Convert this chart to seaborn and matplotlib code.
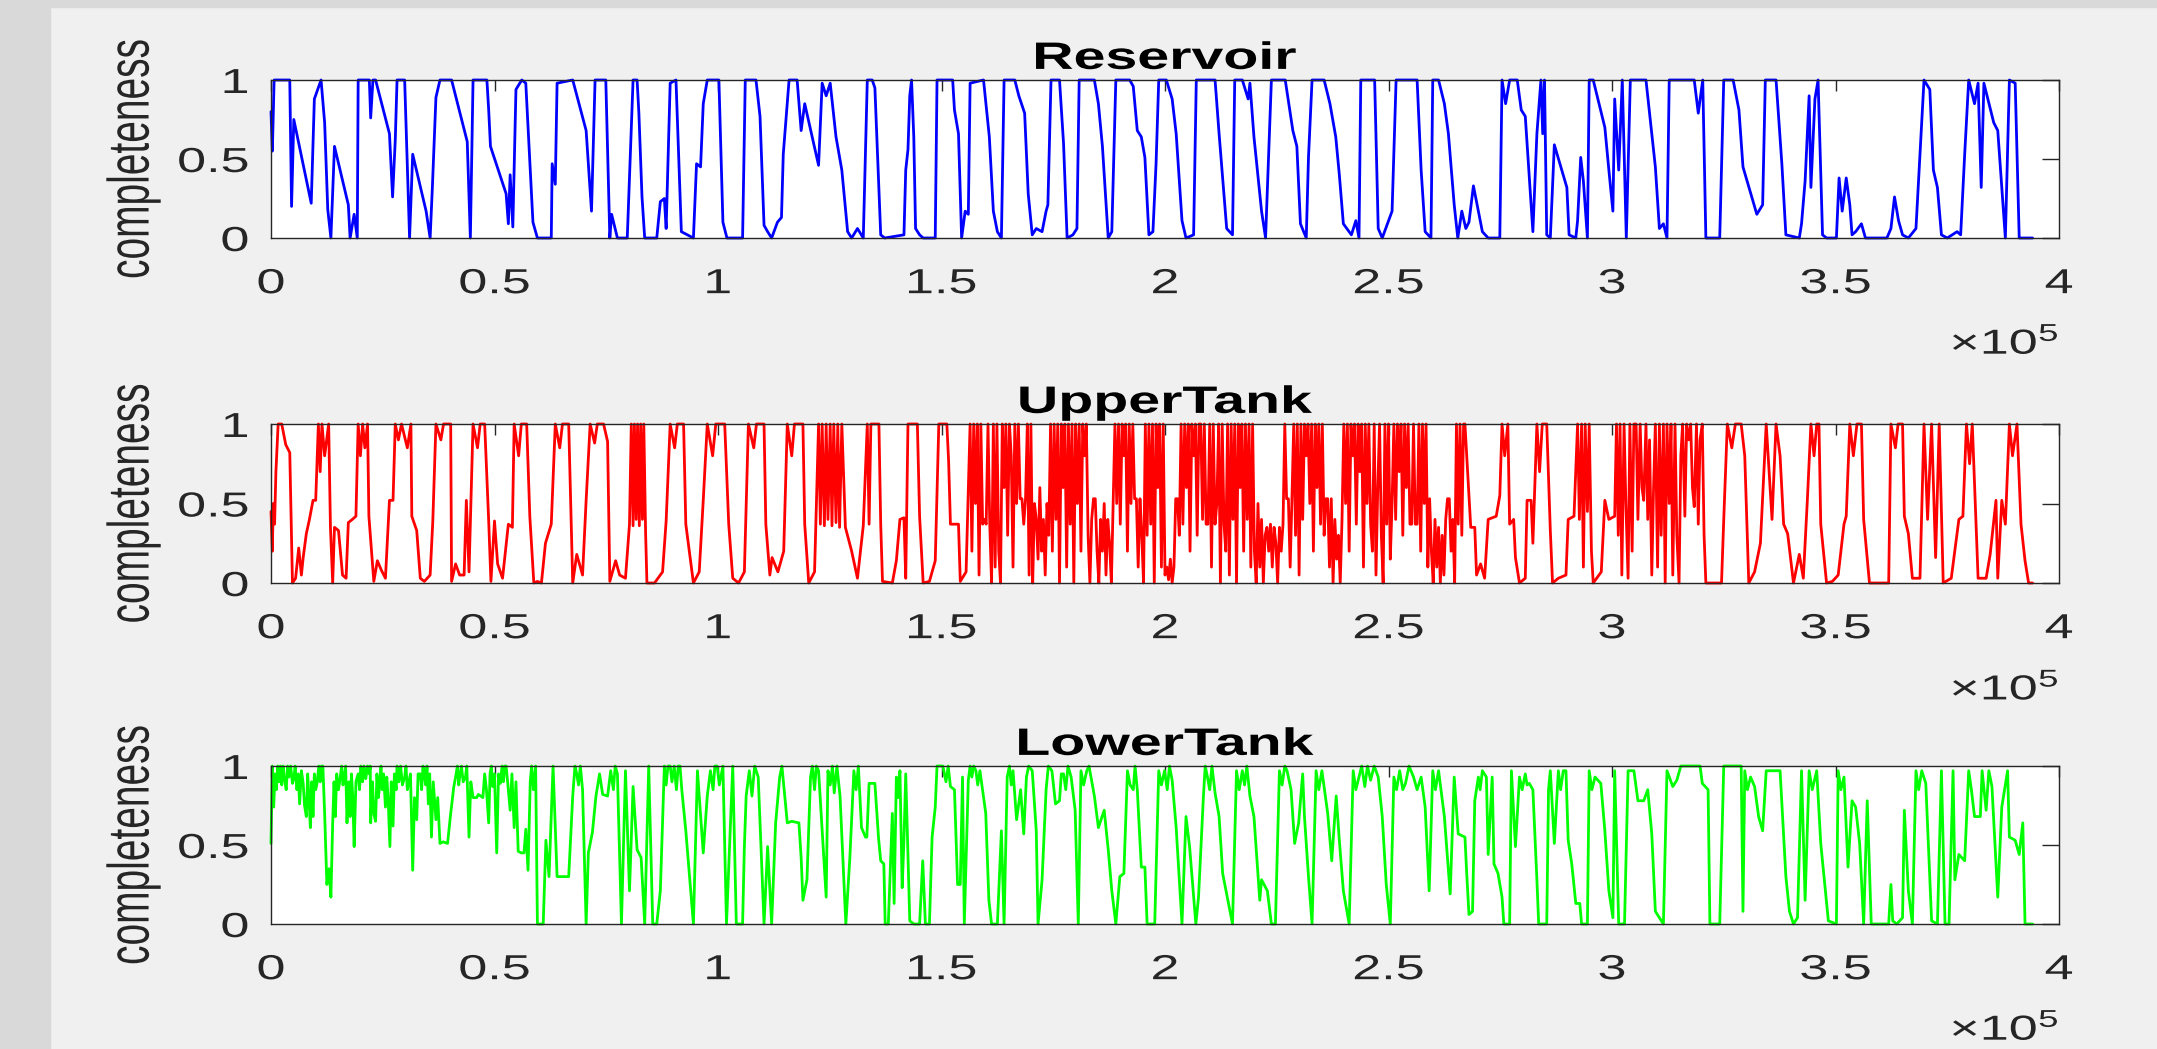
import matplotlib
matplotlib.use("Agg")
import matplotlib.pyplot as plt
import seaborn as sns
import pandas as pd
from matplotlib import patheffects as pe
from matplotlib.transforms import Affine2D
from matplotlib.patches import Rectangle

# ---------------- data (x in thousands of samples, y = completeness) ----------------
titles = ["Reservoir", "UpperTank", "LowerTank"]
line_colors = ["#0000ff", "#ff0000", "#00ff00"]
y_label = "completeness"
x_tick_values = [0, 50000, 100000, 150000, 200000, 250000, 300000, 350000, 400000]
x_tick_labels = ["0", "0.5", "1", "1.5", "2", "2.5", "3", "3.5", "4"]
y_tick_values = [0, 0.5, 1]
y_tick_labels = ["0", "0.5", "1"]
offset_label = r"$\times10^{5}$"

reservoir = [
    (0, 0.8), (0.3, 0.55), (0.7, 1), (4.2, 1), (4.6, 0.2), (5.1, 0.75), (9.0, 0.22), (9.7, 0.88), (11.2, 1),
    (12.0, 0.73), (12.7, 0.18), (13.4, 0), (14.2, 0.58), (17.3, 0.21), (17.7, 0), (18.6, 0.15), (19.3, 0),
    (19.5, 1), (22.0, 1), (22.3, 0.76), (22.8, 1), (23.4, 1), (26.5, 0.66), (27.2, 0.26), (27.8, 0.62),
    (28.2, 1), (29.9, 1), (31.0, 0), (31.7, 0.53), (34.7, 0.17), (35.6, 0), (36.1, 0.32), (36.9, 0.89),
    (37.8, 1), (40.4, 1), (43.9, 0.61), (44.6, 0), (45.2, 1), (48.3, 1), (48.7, 0.81), (49.1, 0.58),
    (52.6, 0.28), (53.1, 0.09), (53.5, 0.4), (54.1, 0.07), (54.8, 0.94), (56.1, 1), (57.0, 0.98),
    (58.6, 0.1), (59.6, 0), (62.7, 0), (62.9, 0.47), (63.6, 0.34), (64.0, 0.98), (67.5, 1), (70.5, 0.68),
    (71.7, 0.17), (72.5, 1), (74.9, 1), (75.8, 0), (76.2, 0.15), (77.5, 0), (79.7, 0), (81.0, 1), (81.9, 1),
    (82.3, 0.79), (83.0, 0.26), (83.6, 0), (86.3, 0), (87.1, 0.23), (88.0, 0.25), (88.4, 0.06), (89.3, 0.98),
    (90.6, 1), (91.8, 0.04), (94.5, 0), (95.2, 0.47), (96.1, 0.45), (96.7, 0.85), (97.6, 1), (100.2, 1),
    (101.1, 0.1), (102.0, 0), (105.5, 0), (106.1, 1), (108.5, 1), (109.4, 0.77), (110.3, 0.08), (111.1, 0.04),
    (112.0, 0), (113.3, 0.1), (114.2, 0.13), (114.6, 0.53), (115.9, 1), (117.7, 1), (118.6, 0.68),
    (119.4, 0.85), (122.5, 0.46), (123.3, 0.98), (124.2, 0.9), (125.1, 0.98), (126.4, 0.64), (127.7, 0.43),
    (129.0, 0.04), (129.9, 0), (131.2, 0.06), (132.5, 0), (133.4, 1),
    (134.5, 1), (135.1, 0.95), (136.4, 0.02), (137.3, 0), (141.6, 0.02), (142.0, 0.43), (142.5, 0.56),
    (142.9, 0.9), (143.3, 1), (143.8, 0.64), (144.2, 0.06), (145.1, 0.02), (145.9, 0), (148.6, 0), (149.0, 1),
    (152.5, 1), (152.9, 0.81), (153.8, 0.66), (154.5, 0), (155.3, 0.17), (156.0, 0.15), (156.4, 0.98),
    (159.4, 1), (160.7, 0.64), (161.6, 0.17), (162.5, 0.04), (163.4, 0), (164.0, 1), (166.4, 1), (167.3, 0.9),
    (168.6, 0.79), (169.4, 0.28), (170.3, 0.02), (171.2, 0.06), (172.5, 0.04), (173.4, 0.17), (173.8, 0.21),
    (174.5, 1), (176.4, 1), (177.3, 0.6), (178.1, 0), (179.4, 0.02), (180.3, 0.06), (180.8, 1), (184.2, 1),
    (185.1, 0.85), (186.0, 0.58), (187.3, 0), (188.1, 0.04), (189.0, 1), (192.1, 1), (192.9, 0.96),
    (193.8, 0.68), (194.7, 0.64), (195.5, 0.51), (196.4, 0.02), (197.3, 0.04), (198.0, 0.47), (198.6, 1),
    (200.3, 1), (201.6, 0.88), (202.5, 0.66), (203.8, 0.11), (204.7, 0), (206.4, 0.02), (207.0, 1),
    (211.2, 1), (212.1, 0.66), (213.8, 0.06), (215.1, 0.02), (215.6, 1), (217.3, 1), (218.6, 0.88),
    (219.0, 0.98), (219.9, 0.64), (221.6, 0.17), (222.5, 0), (223.8, 1), (226.9, 1), (228.6, 0.68),
    (229.5, 0.58), (230.3, 0.09), (231.6, 0), (232.1, 0.51), (232.9, 1), (235.6, 1), (236.9, 0.85),
    (238.2, 0.64), (239.0, 0.4), (239.9, 0.09), (241.7, 0.02), (242.7, 0.11), (243.4, 0), (243.8, 1),
    (246.9, 1), (247.7, 0.06), (248.6, 0), (250.8, 0.17), (251.7, 1), (256.4, 1), (257.3, 0.43),
    (258.2, 0.04), (259.5, 0), (259.9, 1), (261.2, 1), (262.5, 0.85), (263.4, 0.66), (264.7, 0.21),
    (265.5, 0), (266.4, 0.17), (267.3, 0.06),
    (268.0, 0.1), (269.0, 0.33), (271.0, 0.04), (272.3, 0), (274.9, 0), (275.4, 1), (276.2, 0.85), (277.1, 1),
    (278.8, 1), (279.7, 0.81), (280.6, 0.77), (282.3, 0.04), (282.8, 0.38), (283.2, 0.66), (284.1, 1),
    (284.5, 0.66), (284.9, 1), (285.4, 0.02), (286.2, 0), (287.1, 0.59), (289.9, 0.32), (290.4, 0.02),
    (291.9, 0), (292.3, 0.11), (293.0, 0.51), (293.6, 0.36), (294.5, 0), (294.9, 1), (295.8, 1), (298.4, 0.7),
    (299.3, 0.43), (300.2, 0.17), (300.6, 0.88), (301.5, 0.43), (302.3, 1), (303.2, 0), (304.1, 1), (307.6, 1),
    (309.7, 0.45), (310.6, 0.06), (311.5, 0.09), (312.3, 0), (312.8, 1), (318.4, 1), (319.3, 0.79),
    (320.3, 1), (321.0, 0), (324.1, 0), (325.0, 1), (327.1, 1), (328.4, 0.81), (329.3, 0.45), (332.4, 0.15),
    (333.7, 0.21), (334.3, 1), (336.7, 1), (338.0, 0.47), (338.9, 0.02), (341.9, 0), (342.4, 0.09),
    (343.2, 0.36), (344.1, 0.9), (344.5, 0.32), (345.4, 0.88), (346.1, 1), (347.1, 0.02), (348.0, 0),
    (350.2, 0), (350.8, 0.38), (351.5, 0.17), (352.4, 0.38), (353.2, 0.21), (353.7, 0.02), (354.5, 0.04),
    (355.8, 0.09), (356.7, 0), (361.5, 0), (362.4, 0.06), (363.2, 0.26), (364.1, 0.11), (365.0, 0.02),
    (366.3, 0), (368.0, 0.06), (368.9, 0.53), (369.8, 1), (371.1, 0.94), (371.9, 0.43), (372.8, 0.32),
    (373.7, 0.02), (375.0, 0), (377.2, 0.04), (378.0, 0.02), (378.9, 0.53), (379.8, 1), (381.1, 0.85),
    (381.9, 0.98), (382.6, 0.32), (383.2, 0.98), (385.4, 0.73), (386.3, 0.68), (388.0, 0), (388.9, 1),
    (390.2, 0.98), (391.1, 0), (394.1, 0),
]

upper_tank = [
    (0, 0.45), (0.3, 0.2), (0.5, 0.5), (0.8, 0.37), (1.1, 0.7), (1.6, 1), (2.4, 1), (3.3, 0.87), (4.2, 0.82),
    (4.8, 0), (5.5, 0.03), (6.2, 0.22), (6.8, 0.05), (7.2, 0.16), (7.9, 0.31), (8.6, 0.4), (9.4, 0.52),
    (10.0, 0.52), (10.6, 1), (11.0, 0.7), (11.4, 1), (12.0, 0.8), (12.9, 1), (13.3, 0.35), (13.8, 0), (14.2, 0.35), (15.1, 0.33), (16.0, 0.05),
    (16.8, 0.03), (17.3, 0.38), (18.2, 0.4), (19.0, 0.42), (19.5, 1), (20.0, 0.8), (20.5, 1), (21.0, 0.85), (21.6, 1), (21.9, 0.42), (23.0, 0.01),
    (23.8, 0.14), (24.7, 0.08), (25.6, 0.03), (26.5, 0.52), (27.3, 0.52), (27.8, 1), (28.5, 0.9), (29.2, 1), (30.5, 0.85), (31.3, 1), (31.5, 0.42),
    (32.6, 0.33), (33.4, 0.03), (34.3, 0.01), (35.6, 0.05), (36.2, 0.39), (36.9, 1), (38.0, 0.9), (38.6, 1), (40.2, 1), (40.4, 0.01),
    (41.3, 0.12), (42.2, 0.05), (43.2, 0.05), (43.7, 0.52), (44.3, 0.07), (45.2, 1), (46.2, 0.85), (46.8, 1), (47.8, 1), (48.7, 0.39),
    (49.2, 0.01), (50.0, 0.39), (50.7, 0.12), (51.8, 0.03), (53.1, 0.37), (54.0, 0.35), (54.4, 1), (55.4, 0.8), (56.0, 1), (57.2, 1),
    (57.9, 0.42), (58.8, 0), (59.6, 0.01), (60.5, 0), (61.4, 0.25), (62.7, 0.37), (63.6, 1), (64.6, 0.85), (65.2, 1), (66.6, 1),
    (67.5, 0), (68.4, 0.18), (69.7, 0.05), (70.5, 0.52), (71.4, 1), (72.4, 0.88), (73.0, 1), (74.4, 1), (75.3, 0.89), (75.8, 0.01),
    (77.1, 0.14), (78.0, 0.05), (79.3, 0.03), (80.2, 0.37), (80.6, 1), (81.0, 0.36), (81.3, 1), (81.7, 0.4),
    (82.0, 1), (82.4, 0.36), (82.7, 1), (83.1, 0.4), (83.4, 1), (83.8, 0.32), (84.1, 0), (85.8, 0),
    (87.6, 0.07), (88.4, 0.39), (89.3, 1), (90.3, 0.85), (90.9, 1), (92.3, 1), (92.8, 0.37), (94.5, 0), (95.8, 0.07), (96.7, 0.52),
    (97.6, 1), (98.8, 0.8), (99.5, 1), (101.5, 1), (102.4, 0.37), (103.3, 0.03), (104.6, 0), (105.9, 0.07), (106.8, 1), (108.0, 0.85), (108.6, 1), (110.3, 1),
    (110.7, 0.37), (111.6, 0.05), (112.1, 0.16), (113.4, 0.07), (114.7, 0.2), (115.5, 1), (116.5, 0.8), (117.1, 1), (119.0, 1),
    (119.4, 0.37), (120.3, 0), (121.6, 0.07), (122.5, 1), (122.9, 0.37), (123.3, 1), (123.8, 0.36),
    (124.2, 1), (124.6, 0.4), (125.1, 1), (125.5, 0.36), (125.9, 1), (126.4, 0.38), (126.8, 1), (127.2, 0.35),
    (127.7, 1), (128.5, 0.35), (129.9, 0.2), (131.2, 0.03), (132.5, 0.36), (133.4, 1),
    (133.8, 0.37), (134.2, 1), (136.0, 1), (136.4, 0.37), (136.8, 0.01), (139.0, 0), (139.9, 0.14),
    (140.7, 0.4), (141.6, 0.41), (142.0, 0.03), (142.5, 1), (144.6, 1), (145.1, 0.42), (145.9, 0),
    (147.3, 0.01), (148.6, 0.14), (149.4, 1), (151.2, 1), (151.6, 0.76), (152.0, 0.37), (153.8, 0.37),
    (154.2, 0.01), (155.5, 0.07), (156.4, 1),
    (156.8, 0.2), (157.2, 1), (157.6, 0.5), (158.0, 1), (158.4, 0.05), (158.8, 1), (159.2, 0.37), (159.6, 0.4),
    (160.0, 0.37), (160.4, 1), (160.8, 0.37), (161.2, 0), (161.6, 1), (162.0, 0.1), (162.4, 1), (162.8, 0.2),
    (163.2, 0), (163.6, 1), (164.0, 0.6), (164.4, 1), (164.8, 0.3), (165.2, 1), (165.6, 0.8), (166.0, 0.1),
    (166.4, 1), (166.8, 0.5), (167.2, 1), (167.6, 0.53), (168.0, 0.53), (168.4, 0.37), (168.8, 0.53),
    (169.2, 1), (169.6, 0.05), (170.0, 1), (170.4, 0), (170.8, 0.5), (171.2, 0.4), (171.6, 0.15), (172.0, 0.6),
    (172.4, 0.2), (172.8, 0.4), (173.2, 0.05), (173.6, 0.5), (174.0, 0.3), (174.4, 1), (174.8, 0.2),
    (175.2, 1), (175.6, 0.4), (176.0, 1), (176.4, 0), (176.8, 1), (177.2, 0.6), (177.6, 1), (178.0, 0.1),
    (178.4, 1), (178.8, 0.37), (179.2, 1), (179.6, 0), (180.0, 1), (180.4, 0.5), (180.8, 1), (181.2, 0.2),
    (181.6, 1), (182.0, 0.8), (182.4, 1), (182.8, 0.3), (183.2, 0), (183.6, 0.4), (184.0, 0.53), (184.4, 0.53),
    (184.8, 0.2), (185.2, 0), (185.6, 0.4), (186.0, 0.2), (186.4, 0.5), (186.8, 0.05), (187.2, 0.4),
    (187.6, 0.25), (188.0, 0), (188.4, 0.5), (188.8, 1), (189.2, 0.5), (189.6, 1), (190.0, 0.37), (190.4, 1),
    (190.8, 0.8), (191.2, 1), (191.6, 0.2), (192.0, 1), (192.4, 0.5), (192.8, 1), (193.2, 0.53), (193.6, 0.53),
    (194.0, 0.1), (194.4, 0.53), (194.8, 0.3), (195.2, 0), (195.6, 1), (196.0, 0.3), (196.4, 1), (196.8, 0.37),
    (197.2, 1), (197.6, 0), (198.0, 1), (198.4, 0.6), (198.8, 1), (199.2, 0.1), (199.6, 1), (200.0, 0.05),
    (200.4, 0.1), (200.8, 0.02), (201.2, 0.15), (201.6, 0), (202.0, 0.1), (202.4, 0.53), (202.8, 0.53),
    (203.2, 0.3), (203.6, 1), (204.0, 0.37), (204.4, 1), (204.8, 0.6), (205.2, 1), (205.6, 0.2), (206.0, 1),
    (206.4, 0.8), (206.8, 1), (207.2, 0.3), (207.6, 1), (208.0, 1), (208.4, 0.4), (208.8, 1), (209.2, 0.37),
    (209.6, 0.37), (210.0, 1), (210.4, 0.1), (210.8, 1), (211.2, 0.37), (211.6, 0.5), (212.0, 1), (212.4, 0),
    (212.8, 1), (213.2, 0.37), (213.6, 0.2), (214.0, 1), (214.4, 0.05), (214.8, 1), (215.2, 0.4), (215.6, 1),
    (216.0, 0), (216.4, 1), (216.8, 0.6), (217.2, 1), (217.6, 0.2), (218.0, 1), (218.4, 0.4), (218.8, 1),
    (219.2, 0.1), (219.6, 1), (220.0, 0.2), (220.4, 0), (220.8, 0.5), (221.2, 0.1), (221.6, 0.4), (222.0, 0),
    (222.4, 0.3), (222.8, 0.35), (223.2, 0.2), (223.6, 0.37), (224.0, 0.1), (224.4, 0.35), (224.8, 0.25),
    (225.2, 0), (225.6, 0.35), (226.0, 0.2), (226.4, 0.37), (226.8, 1), (227.2, 0.53), (227.6, 0.53),
    (228.0, 0.1), (228.4, 0.53), (228.8, 1), (229.2, 0.3), (229.6, 1), (230.0, 0.05), (230.4, 1), (230.8, 0.4),
    (231.2, 1), (231.6, 0.8), (232.0, 1), (232.4, 0.5), (232.8, 1), (233.2, 0.2), (233.6, 1), (234.0, 0.6),
    (234.4, 1), (234.8, 0.37), (235.2, 1), (235.6, 0.3), (236.0, 0.53), (236.4, 0.53), (236.8, 0.1),
    (237.2, 0.53), (237.6, 0), (238.0, 0.4), (238.4, 0.15), (238.8, 0.3), (239.2, 0), (239.6, 0.4), (240.0, 1),
    (240.4, 0.5), (240.8, 1), (241.2, 0.2), (241.6, 1), (242.0, 0.8), (242.4, 1), (242.8, 0.37), (243.2, 1),
    (243.6, 0.7), (244.0, 1), (244.4, 0.1), (244.8, 1), (245.2, 0.5), (245.6, 1), (246.0, 0.37), (246.4, 0.2),
    (246.8, 1), (247.2, 0.05), (247.6, 0.6), (248.0, 1), (248.4, 0.3), (248.8, 0), (249.2, 1), (249.6, 0.37),
    (250.0, 1), (250.4, 0.15), (250.8, 0.5), (251.2, 1), (251.6, 0.4), (252.0, 1), (252.4, 0.7), (252.8, 1),
    (253.2, 0.3), (253.6, 1), (254.0, 0.6), (254.4, 1), (254.8, 0.37), (255.2, 0.37), (255.6, 1),
    (256.0, 0.37), (256.4, 0.37), (256.8, 1), (257.2, 0.2), (257.6, 1), (258.0, 0.5), (258.4, 1), (258.8, 0.1),
    (259.2, 0.53), (259.6, 0.2), (260.0, 0), (260.4, 0.4), (260.8, 0.1), (261.2, 0.35), (261.6, 0),
    (262.0, 0.3), (262.4, 0.05), (262.8, 0.4), (263.2, 0.53), (263.6, 0.53), (264.0, 0.2), (264.4, 0.4),
    (264.8, 0), (265.2, 1), (265.6, 0.37), (266.0, 1), (266.4, 0.3), (266.8, 1),
    (267.1, 1), (268.4, 0.35), (269.3, 0.35), (269.7, 0.05), (270.6, 0.12), (271.5, 0.03), (272.3, 0.4),
    (274.1, 0.42), (274.9, 0.55), (275.4, 1), (276.0, 0.8), (276.7, 1), (277.1, 0.37), (278.0, 0.4), (278.4, 0.16),
    (279.3, 0), (280.6, 0.03), (281.0, 0.52), (281.9, 0.52), (282.3, 0.25), (283.2, 1), (283.8, 0.7), (284.4, 1), (285.4, 1),
    (286.2, 0.33), (286.7, 0), (288.0, 0.03), (289.7, 0.05), (290.2, 0.4), (291.5, 0.42), (292.3, 1),
    (292.7, 0.4), (293.2, 1), (293.6, 0.1), (294.0, 1), (294.5, 0.45), (294.9, 1), (295.4, 0.2), (295.8, 0),
    (297.6, 0.07), (298.4, 0.52), (299.3, 0.4), (300.6, 0.42), (301.0, 1), (301.4, 0.3), (301.8, 1),
    (302.2, 0.05), (302.7, 1), (303.1, 0.5), (303.6, 0.03), (304.0, 1), (304.5, 0.2), (304.9, 1), (305.4, 1),
    (305.8, 0.4), (306.3, 1), (306.7, 0.6), (307.1, 0.52), (307.6, 1), (308.0, 0.4), (308.4, 0.9),
    (308.9, 0.05), (309.3, 0.6), (309.7, 1), (310.2, 0.1), (310.6, 1), (311.0, 0.3), (311.5, 1), (311.9, 0),
    (312.3, 1), (312.8, 0.5), (313.2, 1), (313.6, 0.05), (314.1, 1), (314.5, 0.3), (315.0, 0), (315.4, 0.8),
    (315.8, 1), (316.3, 0.42), (316.7, 1), (317.2, 0.9), (317.6, 1), (318.0, 0.6), (318.4, 0.48), (318.9, 1),
    (319.3, 0.37), (319.7, 0.9), (320.2, 1), (320.6, 0.3), (321.0, 0), (324.5, 0), (325.0, 0.4), (325.8, 1),
    (326.8, 0.85), (327.6, 1), (328.9, 1), (329.7, 0.8), (330.6, 0), (331.9, 0.07), (333.2, 0.25), (334.5, 1), (335.8, 0.4), (336.7, 1),
    (337.6, 0.8), (338.4, 0.37), (339.3, 0.31), (340.6, 0), (341.9, 0.18), (342.8, 0.03), (343.7, 0.52),
    (344.5, 1), (345.2, 0.8), (345.8, 1), (346.3, 1), (346.7, 0.37), (348.0, 0), (349.3, 0.01), (350.6, 0.05), (351.9, 0.37),
    (352.4, 0.42), (353.2, 1), (354.0, 0.8), (354.8, 1), (355.8, 1), (356.3, 0.4), (357.6, 0), (361.9, 0), (362.4, 1), (363.4, 0.85), (364.0, 1), (365.0, 1),
    (365.4, 0.42), (366.3, 0.31), (367.2, 0.03), (368.9, 0.03), (369.8, 1), (370.6, 0.4), (371.5, 1),
    (372.4, 0.16), (373.2, 1), (374.1, 0), (375.9, 0.03), (377.6, 0.4), (378.5, 0.42), (379.3, 1), (380.0, 0.75), (380.6, 1),
    (381.1, 0.63), (381.9, 0.03), (383.7, 0.03), (384.6, 0.18), (385.9, 0.52), (386.3, 0.03), (387.2, 0.52),
    (388.0, 0.37), (388.9, 1), (389.6, 0.8), (390.6, 1), (391.5, 0.37), (392.4, 0.14), (393.2, 0), (394.1, 0),
]

lower_tank = [
    (0, 0.51), (0.3, 1), (0.6, 0.74), (0.9, 0.95), (1.2, 0.85), (1.5, 1), (1.8, 0.9), (2.1, 1), (2.4, 0.88),
    (2.7, 1), (3.0, 0.92), (3.4, 0.85), (3.7, 1), (4.0, 0.93), (4.4, 1), (4.8, 0.89), (5.1, 0.92), (5.4, 1),
    (5.8, 0.85), (6.1, 0.95), (6.4, 0.76), (6.8, 0.97), (7.2, 0.89), (7.5, 0.75), (7.9, 0.68), (8.2, 0.95),
    (8.5, 0.8), (8.8, 0.61), (9.1, 0.9), (9.4, 0.68), (9.7, 0.95), (10.0, 0.85), (10.3, 0.89), (10.7, 1),
    (11.0, 0.9), (11.3, 1), (11.6, 1), (12.0, 0.7), (12.5, 0.25), (13.0, 0.35), (13.4, 0.17), (13.8, 0.64),
    (14.1, 0.9), (14.4, 0.68), (14.7, 0.95), (15.1, 0.85), (15.5, 0.93), (15.8, 1), (16.1, 0.88), (16.4, 0.93),
    (16.7, 1), (17.0, 0.64), (17.4, 0.9), (17.7, 0.68), (18.0, 0.95), (18.3, 0.8), (18.6, 0.49), (19.0, 0.9),
    (19.5, 0.95), (19.8, 0.85), (20.1, 1), (20.5, 0.9), (20.8, 1), (21.2, 0.92), (21.6, 1), (22.0, 0.95),
    (22.2, 1), (22.3, 0.64), (22.7, 0.9), (23.0, 0.7), (23.4, 0.65), (23.7, 0.95), (24.0, 0.8), (24.3, 0.87),
    (24.6, 1), (24.9, 0.85), (25.2, 0.95), (25.6, 0.74), (25.9, 0.93), (26.2, 0.8), (26.6, 0.49), (26.9, 0.9),
    (27.3, 0.62), (27.6, 0.95), (28.0, 0.85), (28.2, 1), (28.6, 0.9), (29.0, 1), (29.4, 0.88), (29.9, 0.93),
    (30.2, 1), (30.5, 0.85), (30.8, 0.89), (31.2, 0.95), (31.7, 0.34), (32.1, 0.8), (32.6, 0.66), (32.9, 0.95),
    (33.4, 0.95), (33.7, 0.85), (34.0, 1), (34.3, 0.95), (34.6, 0.88), (34.9, 1), (35.2, 0.76), (35.5, 0.95),
    (35.9, 0.55), (36.3, 0.9), (36.9, 0.66), (37.3, 0.8), (37.8, 0.51), (38.5, 0.52), (39.5, 0.51), (40.2, 0.7),
    (40.9, 0.87), (41.3, 0.93), (41.7, 1), (42.0, 0.88), (42.2, 0.93), (42.6, 1), (43.0, 0.9), (43.5, 0.93),
    (43.8, 1), (44.3, 0.55), (44.7, 0.9), (45.2, 0.8), (46.0, 0.8), (46.4, 0.82), (47.4, 0.8), (47.8, 0.95),
    (48.2, 0.85), (48.7, 0.64), (49.0, 0.95), (49.3, 1), (49.6, 0.87), (50.0, 0.95), (50.5, 0.45), (50.9, 0.95),
    (51.3, 0.89), (51.7, 1), (52.0, 0.9), (52.3, 1), (52.6, 1), (53.0, 0.88), (53.5, 0.72), (53.9, 0.95),
    (54.4, 0.61), (54.8, 0.9), (55.3, 0.46), (56.0, 0.45), (56.6, 0.45), (57.0, 0.6), (57.5, 0.34), (58.0, 0.9),
    (58.3, 1), (58.7, 0.85), (59.2, 1), (59.6, 0), (60.9, 0), (61.5, 0.53), (62.2, 0.3),
    (63.1, 1), (64.0, 0.3), (66.6, 0.3), (67.5, 0.81), (68.0, 1), (68.4, 0.95), (68.8, 0.88), (69.2, 1), (69.7, 0.85), (70.5, 0),
    (71.0, 0.45), (71.9, 0.58), (72.7, 0.81), (73.5, 0.95), (74.2, 0.82), (75.3, 0.81), (76.0, 0.97), (76.6, 0.85), (77.0, 1), (77.5, 0.95), (78.4, 0),
    (79.3, 0.97), (80.2, 0.21), (81.0, 0.87), (81.9, 0.47), (82.8, 0.42), (83.6, 0), (84.5, 1), (85.4, 0),
    (86.3, 0), (87.1, 0.21), (88.0, 1), (88.4, 0.88), (88.8, 1), (89.3, 1), (89.7, 0.9), (90.2, 1), (90.7, 0.85), (91.1, 1), (91.5, 1), (91.9, 0.85), (92.8, 0.59), (94.5, 0),
    (95.4, 0.97), (96.7, 0.45), (97.6, 0.81), (98.3, 0.97), (98.9, 0.85), (99.3, 1), (99.8, 1), (100.3, 0.88), (101.1, 1), (101.9, 0), (103.3, 1),
    (104.1, 0), (105.5, 0), (105.9, 0.49), (106.3, 0.81), (107.0, 0.97), (107.6, 0.81), (108.2, 1), (109.0, 0.93), (110.3, 0),
    (111.1, 0.49), (112.0, 0), (112.9, 0.64), (113.8, 0.93), (114.3, 1), (115.5, 0.64), (116.5, 0.65), (118.1, 0.64), (118.6, 0.42),
    (119.0, 0.15), (119.9, 0.28), (120.7, 0.93), (121.1, 1), (121.6, 0.85), (122.0, 1), (122.5, 0.97), (124.2, 0.17), (124.6, 0.97), (125.1, 0.88), (125.6, 1), (126.0, 0.83),
    (126.6, 1), (127.3, 0.81), (128.6, 0), (129.5, 0.42), (130.4, 0.97), (130.9, 0.85), (131.4, 1), (132.1, 0.61), (133.0, 0.55),
    (133.3, 0.55), (133.8, 0.89), (135.1, 0.89), (135.9, 0.55), (136.4, 0.4), (137.1, 0.38), (137.4, 0),
    (138.1, 0), (139.0, 0.7), (139.4, 0.13), (139.9, 0.93), (140.3, 0.8), (140.7, 0.97), (141.2, 0.23),
    (141.6, 0.53), (142.0, 0.95), (142.5, 0.42), (142.9, 0.02), (143.8, 0), (145.1, 0), (145.8, 0.4),
    (146.4, 0), (147.3, 0), (147.9, 0.55), (148.6, 0.74), (149.0, 1), (150.3, 1), (151.0, 0.9), (151.5, 1), (152.0, 0.87),
    (152.9, 0.85), (153.6, 0.25), (154.2, 0.25), (154.7, 0.93), (155.1, 0), (156.0, 0.91), (156.4, 1), (156.8, 0.93),
    (157.2, 1), (157.7, 0.97), (158.1, 0.88), (158.6, 0.97), (159.9, 0.7), (160.6, 0.15), (161.2, 0), (162.5, 0), (163.4, 0.59),
    (164.0, 0), (164.7, 0.93), (165.2, 1), (165.6, 0.88), (166.0, 0.97), (166.8, 0.66), (167.7, 0.85), (168.4, 0.57), (169.0, 0.93),
    (169.5, 1), (170.3, 0.97), (171.2, 0.59), (171.6, 0), (172.5, 0.28), (173.4, 0.85), (173.9, 1), (174.7, 0.97), (175.5, 0.76),
    (176.4, 0.78), (176.8, 0.95), (177.3, 0.95), (177.8, 0.85), (178.3, 1), (179.0, 0.93), (179.9, 0.72), (180.6, 0), (181.2, 0.97), (181.8, 0.88), (182.5, 0.97),
    (183.0, 1), (184.2, 0.81), (185.1, 0.61), (186.4, 0.72), (187.3, 0.47), (188.1, 0.21), (189.0, 0), (189.9, 0.3),
    (190.8, 0.32), (191.6, 0.97), (192.2, 0.88), (192.9, 0.85), (193.3, 1), (193.8, 0.85), (194.7, 0.36), (195.5, 0.36), (196.0, 0),
    (197.7, 0), (198.6, 0.97), (199.2, 0.88), (199.9, 0.97), (200.5, 0.85), (201.0, 1), (201.6, 0.91), (202.5, 0.61), (203.8, 0), (204.7, 0.68),
    (205.5, 0.49), (206.9, 0), (207.5, 0.17), (208.6, 0.81), (209.0, 1), (209.5, 0.93), (210.0, 0.85), (210.5, 1), (211.2, 0.83), (212.1, 0.68),
    (212.9, 0.32), (214.2, 0.13), (215.1, 0), (216.0, 0.97), (216.6, 0.85), (217.3, 0.97), (217.8, 0.88), (218.3, 1), (219.0, 0.81), (219.9, 0.68),
    (221.2, 0.15), (221.6, 0.28), (222.9, 0.21), (223.8, 0), (224.7, 0), (225.6, 0.97), (226.2, 0.88), (226.8, 1), (227.3, 0.97),
    (228.2, 0.85), (229.0, 0.51), (229.9, 0.64), (230.8, 0.95), (231.2, 0.68), (232.1, 0.3), (232.9, 0),
    (233.8, 0.97), (234.4, 0.85), (235.1, 0.97), (236.4, 0.7), (237.3, 0.4), (238.3, 0.81), (239.0, 0.53), (239.9, 0.21),
    (241.2, 0), (242.1, 0.97), (242.7, 0.85), (243.4, 0.93), (244.0, 1), (244.7, 0.87), (245.3, 1), (246.0, 0.91), (246.8, 1), (247.7, 0.93), (248.6, 0.68),
    (249.5, 0.25), (250.4, 0), (251.2, 0.93), (251.8, 0.85), (252.5, 0.97), (253.2, 0.85), (253.8, 0.89), (254.6, 1), (255.6, 0.93), (256.4, 0.85), (257.3, 0.93),
    (258.2, 0.74), (259.1, 0.21), (259.9, 0.97), (260.5, 0.85), (261.2, 0.97), (262.5, 0.68), (263.8, 0.19), (264.7, 0.93),
    (265.6, 0.57),
    (267.1, 0.55), (267.5, 0.32), (268.0, 0.06), (268.8, 0.08), (269.3, 0.78), (270.1, 0.93), (270.5, 0.85), (271.0, 0.97),
    (271.9, 0.93), (272.3, 0.44), (273.2, 0.93), (273.6, 0.38), (274.5, 0.32), (275.4, 0.17), (275.8, 0),
    (277.1, 0), (277.5, 0.97), (278.4, 0.49), (279.3, 0.93), (279.9, 0.85), (280.6, 0.95), (281.0, 0.88), (281.5, 0.89), (282.3, 0.85),
    (283.2, 0.28), (283.6, 0), (285.4, 0), (285.8, 0.85), (286.2, 0.97), (287.1, 0.51), (288.0, 0.97),
    (288.5, 0.85), (289.1, 0.97), (289.7, 0.97), (290.2, 0.53), (291.0, 0.38), (291.9, 0.13), (292.8, 0.13), (293.2, 0), (294.5, 0),
    (294.9, 0.97), (295.5, 0.85), (296.2, 0.93), (297.5, 0.89), (298.4, 0.59), (299.3, 0.21), (300.2, 0.04), (300.6, 0.97),
    (301.5, 0), (302.8, 0), (303.6, 0.97), (304.9, 0.97), (305.8, 0.78), (307.1, 0.78), (308.0, 0.85),
    (308.9, 0.57), (309.7, 0.08), (310.6, 0.04), (311.5, 0), (312.3, 0.97), (313.6, 0.87), (314.5, 0.91),
    (315.4, 1), (319.7, 1), (320.2, 0.89), (321.5, 0.85), (321.9, 0), (324.1, 0), (325.0, 1), (328.9, 1),
    (329.3, 0.08), (329.7, 0.97), (330.3, 0.85), (331.0, 0.93), (331.9, 0.87), (332.8, 0.68), (333.7, 0.59), (334.5, 0.97),
    (335.8, 0.97), (337.6, 0.97), (338.9, 0.3), (339.7, 0.08), (340.6, 0), (341.5, 0.04), (342.4, 0.97),
    (343.2, 0.15), (344.1, 0.97), (344.8, 0.85), (345.8, 0.97), (346.7, 0.51), (347.6, 0.25), (348.4, 0.02), (350.2, 0),
    (350.6, 0.97), (351.2, 0.85), (351.9, 0.93), (352.8, 0.36), (353.7, 0.78), (354.5, 0.74), (355.4, 0.51), (356.3, 0),
    (357.1, 0.78), (358.0, 0), (361.9, 0), (362.4, 0.25), (362.8, 0.02), (363.7, 0), (365.0, 0.04),
    (365.4, 0.72), (366.3, 0.21), (367.2, 0), (368.0, 0.97), (368.6, 0.85), (369.3, 0.97), (370.2, 0.89), (371.5, 0.02),
    (372.8, 0), (373.7, 0.97), (374.5, 0), (375.4, 0), (376.3, 0.97), (376.7, 0.28), (377.6, 0.44),
    (378.9, 0.4), (379.8, 0.97), (380.4, 0.85), (381.1, 0.68), (382.4, 0.68), (382.8, 0.97), (383.7, 0.72), (384.3, 0.97), (385.0, 0.87),
    (386.3, 0.17), (387.2, 0.74), (388.5, 0.97), (388.9, 0.55), (390.2, 0.53), (391.1, 0.44), (391.9, 0.64),
    (392.4, 0), (394.1, 0),
]

series = [reservoir, upper_tank, lower_tank]


# ---------------- a path effect that widens glyphs horizontally (picture is stretched) -------------
class HStretch(pe.AbstractPathEffect):
    def __init__(self, sx=1.5, pivot="center"):
        super().__init__()
        self.sx = sx
        self.pivot = pivot

    def draw_path(self, renderer, gc, tpath, affine, rgbFace=None):
        ext = tpath.get_extents(affine)
        if self.pivot == "right":
            px = ext.x1
        elif self.pivot == "left":
            px = ext.x0
        else:
            px = 0.5 * (ext.x0 + ext.x1)
        aff = affine + Affine2D().translate(-px, 0).scale(self.sx, 1.0).translate(px, 0)
        renderer.draw_path(gc, tpath, aff, rgbFace)


sns.set_style("white")
plt.rcParams["font.family"] = ["Liberation Sans", "DejaVu Sans"]
plt.rcParams["mathtext.fontset"] = "custom"
plt.rcParams["mathtext.rm"] = "Liberation Sans"
plt.rcParams["mathtext.it"] = "Liberation Sans:italic"
plt.rcParams["mathtext.bf"] = "Liberation Sans:bold"

W, H = 2157, 1049
fig = plt.figure(figsize=(W / 100, H / 100), dpi=100, facecolor="#f0f0f0")
fig.add_artist(Rectangle((0, 0), 50 / W, 1, transform=fig.transFigure, color="#d9d9d9", zorder=-5))
fig.add_artist(Rectangle((0, 1 - 7 / H), 1, 7 / H, transform=fig.transFigure, color="#d9d9d9", zorder=-5))

axis_color = "#262626"
SX = 1.5
left_px, right_px = 271, 2059
panel_px = [(80, 238), (424, 583), (766, 924)]

for i, (top_px, bot_px) in enumerate(panel_px):
    ax = fig.add_axes([left_px / W, 1 - bot_px / H, (right_px - left_px) / W, (bot_px - top_px) / H])
    ax.set_facecolor("white")
    df = pd.DataFrame(series[i], columns=["t_k", "completeness"])
    df["t"] = df["t_k"] * 1000.0
    sns.lineplot(data=df, x="t", y="completeness", ax=ax, color=line_colors[i], linewidth=2.0,
                 estimator=None, sort=False, legend=False, clip_on=False, zorder=1)
    ax.set_xlim(0, 400000)
    ax.set_ylim(0, 1)
    ax.set_xticks(x_tick_values, x_tick_labels)
    ax.set_yticks(y_tick_values, y_tick_labels)
    ax.set_xlabel("")
    for s in ax.spines.values():
        s.set_color(axis_color)
        s.set_linewidth(1.0)
        s.set_visible(True)
        s.set_zorder(3)
    ax.tick_params(axis="both", direction="in", top=True, right=True, colors=axis_color,
                   labelsize=25, width=1.0)
    ax.tick_params(axis="x", length=8, pad=21)
    ax.tick_params(axis="y", length=12, pad=16)
    for lbl in ax.get_xticklabels():
        lbl.set_path_effects([HStretch(SX, "center")])
    for lbl in ax.get_yticklabels():
        lbl.set_path_effects([HStretch(SX, "right")])
    t = ax.set_title(titles[i], fontsize=27.5, fontweight="bold", pad=8, color="black")
    t.set_path_effects([HStretch(SX, "center")])
    yl = ax.set_ylabel(y_label, fontsize=28, color=axis_color)
    ax.yaxis.set_label_coords(-0.0668, 0.5)
    yl.set_path_effects([HStretch(SX, "center")])
    off = ax.text(1.0, -0.734, offset_label, transform=ax.transAxes, ha="right", va="baseline",
                  fontsize=25, color=axis_color)
    off.set_path_effects([HStretch(SX, "right")])

fig.savefig("out.png", dpi=100, facecolor=fig.get_facecolor())
